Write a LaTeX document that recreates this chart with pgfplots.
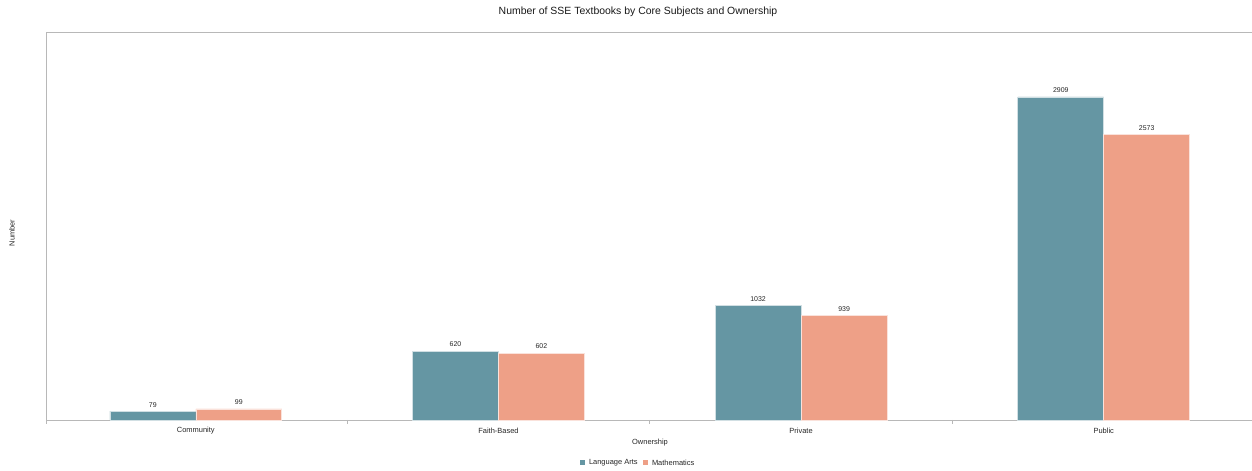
\documentclass[border=0pt]{standalone}
\usepackage{pgfplots}
\pgfplotsset{compat=1.18}
\usepackage{fontspec}
\setmainfont{Liberation Sans}
\definecolor{la}{HTML}{6596A3}
\definecolor{ma}{HTML}{EEA087}
\definecolor{axg}{HTML}{B8B8B8}
\begin{document}
\begin{tikzpicture}[x=1bp,y=1bp]
\useasboundingbox (-46,-51) rectangle (1206,420);
\begin{axis}[
  at={(0,0)}, anchor=south west,
  scale only axis, width=1206bp, height=388bp,
  xmin=-0.495, xmax=3.49, ymin=0, ymax=3494,
  axis lines=none,
  ytick=\empty, xtick=\empty,
  ybar=0pt, bar width=0.284,
  nodes near coords,
  /pgf/number format/assume math mode=true,
  /pgf/number format/1000 sep={},
  every node near coord/.append style={font=\fontsize{7}{8}\selectfont, text=black!85, yshift=0.5bp},
  clip=false,
]
\draw[axg, line width=0.9bp] (rel axis cs:0,0) -- (rel axis cs:1,0);
\draw[axg, line width=0.9bp] ([yshift=-4bp]rel axis cs:0,0) -- (rel axis cs:0,1) -- (rel axis cs:1,1);
\pgfplotsinvokeforeach{0.5,1.5,2.5}{
  \draw[axg, line width=0.9bp] (axis cs:#1,0) -- ([yshift=-4bp]axis cs:#1,0);
}
\addplot[fill=la, draw=white!70!la, line width=0.6bp] coordinates {(0,79) (1,620) (2,1032) (3,2909)};
\addplot[fill=ma, draw=white!70!ma, line width=0.6bp] coordinates {(0,99) (1,602) (2,939) (3,2573)};
\node[font=\fontsize{7.5}{9}\selectfont, text=black!85] at (axis cs:0,0) [yshift=-11bp] {Community};
\node[font=\fontsize{7.5}{9}\selectfont, text=black!85] at (axis cs:1,0) [yshift=-11bp] {Faith-Based};
\node[font=\fontsize{7.5}{9}\selectfont, text=black!85] at (axis cs:2,0) [yshift=-11bp] {Private};
\node[font=\fontsize{7.5}{9}\selectfont, text=black!85] at (axis cs:3,0) [yshift=-11bp] {Public};
\end{axis}
\node[font=\fontsize{10.5}{12}\selectfont, text=black!90] at (592,408) {Number of SSE Textbooks by Core Subjects and Ownership};
\node[font=\fontsize{7.5}{9}\selectfont, text=black!85] at (604,-23) {Ownership};
\node[font=\fontsize{7.5}{9}\selectfont, text=black!85, rotate=90] at (-34,187) {Number};
\fill[la] (534,-45.5) rectangle (539,-40.5);
\node[font=\fontsize{7.5}{9}\selectfont, text=black!85, anchor=west] at (539.5,-43) {Language Arts};
\fill[ma] (597,-45.5) rectangle (602,-40.5);
\node[font=\fontsize{7.5}{9}\selectfont, text=black!85, anchor=west] at (602.5,-43) {Mathematics};
\end{tikzpicture}
\end{document}
